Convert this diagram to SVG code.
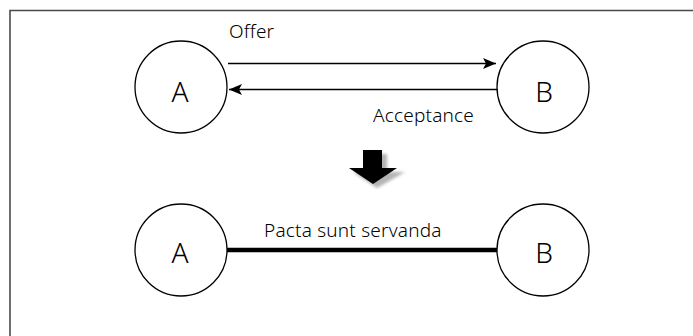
<svg xmlns="http://www.w3.org/2000/svg" width="693" height="336" viewBox="0 0 693 336">
  <style>
    .node { fill: #fff; stroke: #000; stroke-width: 1.3; }
    .label { font-family: "Noto Sans", "Open Sans", sans-serif; fill: #000; }
    .big { font-size: 28px; font-weight: 300; }
    .small { font-size: 19px; font-weight: 300; letter-spacing: 0.2px; }
    .edge { stroke: #000; stroke-width: 1.7; fill: none; }
  </style>
  <defs>
    <marker id="arrow" viewBox="0 0 13 11" refX="13" refY="5.5" markerWidth="13" markerHeight="11" markerUnits="userSpaceOnUse" orient="auto">
      <path d="M0,0 L13,5.5 L0,11 L3,5.5 Z" fill="#000"/>
    </marker>
    <filter id="soft" x="-20%" y="-20%" width="140%" height="140%">
      <feGaussianBlur stdDeviation="1.5"/>
    </filter>
  </defs>

  <rect width="693" height="336" fill="#fff"/>
  <!-- frame: only top and left edges visible -->
  <path d="M10,340 L10,10.5 L700,10.5" fill="none" stroke="#4a4a4a" stroke-width="1.6"/>

  <g id="connectors">
    <line class="edge" x1="228" y1="63.5" x2="496" y2="63.5" marker-end="url(#arrow)"/>
    <line class="edge" x1="497" y1="89.5" x2="229" y2="89.5" marker-end="url(#arrow)"/>
    <line x1="227" y1="250" x2="497" y2="250" stroke="#000" stroke-width="4.5"/>
    <text class="label small" x="229" y="38">Offer</text>
    <text class="label small" x="373" y="122">Acceptance</text>
    <text class="label small" x="264" y="237">Pacta sunt servanda</text>
  </g>

  <g id="node-a-top">
    <circle class="node" cx="181" cy="87" r="46"/>
    <text class="label big" x="180" y="102" text-anchor="middle">A</text>
  </g>
  <g id="node-b-top">
    <circle class="node" cx="543" cy="87" r="46"/>
    <text class="label big" x="544" y="102" text-anchor="middle">B</text>
  </g>

  <g id="down-arrow">
    <path d="M367,154 L387,154 L387,172 L405,172 L377,188 L353,172 L367,172 Z" fill="#b4b4b4" filter="url(#soft)"/>
    <path d="M363,150 L382,150 L382,168 L397,168 L373,184 L349,168 L363,168 Z" fill="#000"/>
  </g>

  <g id="node-a-bottom">
    <circle class="node" cx="181" cy="250" r="46"/>
    <text class="label big" x="180" y="263" text-anchor="middle">A</text>
  </g>
  <g id="node-b-bottom">
    <circle class="node" cx="543" cy="250" r="46"/>
    <text class="label big" x="544" y="263" text-anchor="middle">B</text>
  </g>
</svg>
